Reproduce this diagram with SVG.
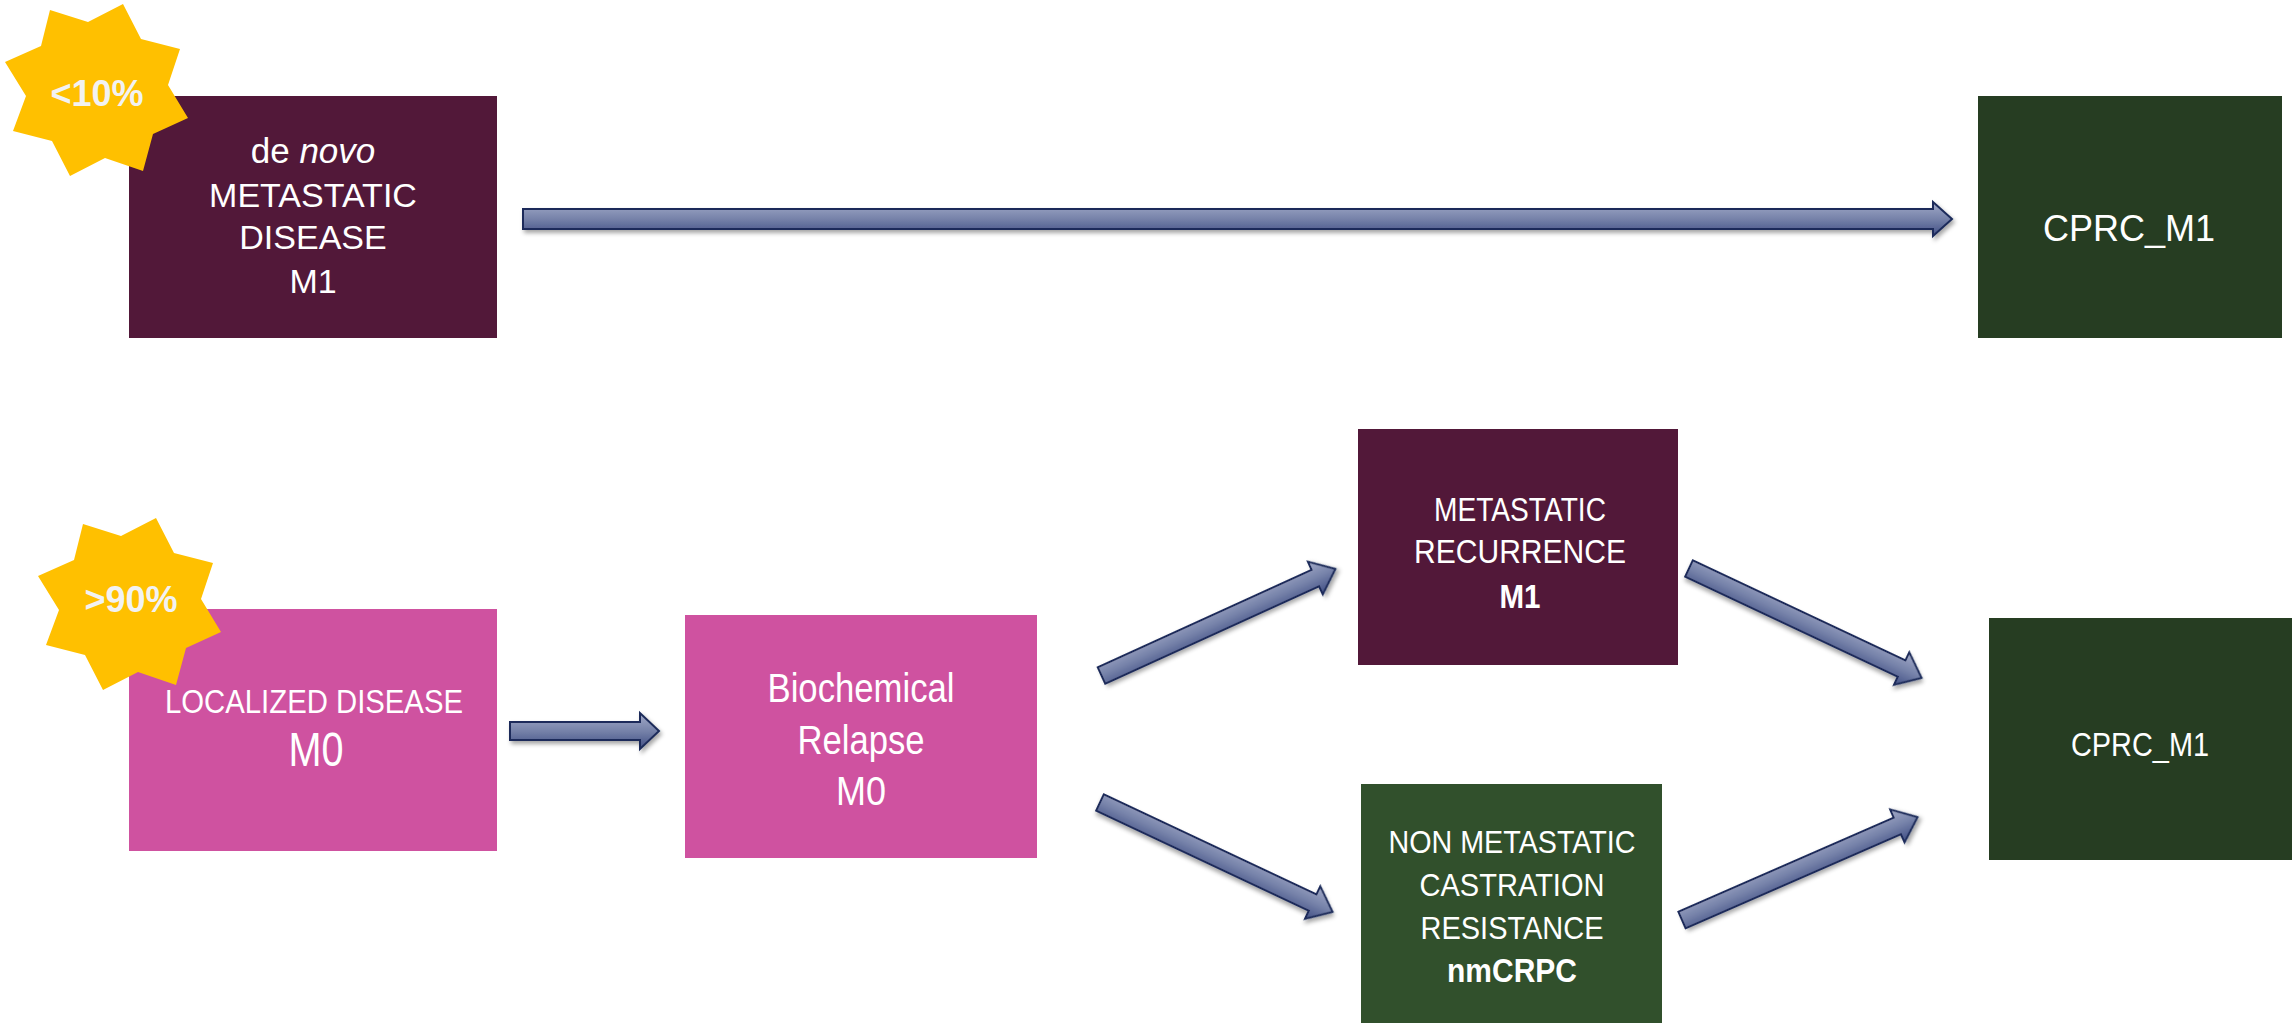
<svg xmlns="http://www.w3.org/2000/svg" width="2292" height="1023" viewBox="0 0 2292 1023">
  <defs>
    <linearGradient id="arrowFill" x1="0" y1="0" x2="0" y2="1">
      <stop offset="0" stop-color="#a2aac8"/>
      <stop offset="0.5" stop-color="#7682a9"/>
      <stop offset="1" stop-color="#404e84"/>
    </linearGradient>
    <filter id="shadow" x="-10%" y="-60%" width="120%" height="220%">
      <feDropShadow dx="2" dy="3" stdDeviation="2" flood-color="#000" flood-opacity="0.35"/>
    </filter>
    <polygon id="star" points="50,10 88,22 123,4 141,39 180,49 168,85 188,118 153,134 143,171 105,158 70,176 52,141 13,131 26,96 5,62 41,46"/>
  </defs>
  <style>
    text { font-family: "Liberation Sans", Arial, sans-serif; fill: #ffffff; text-anchor: middle; }
    .star { fill: #ffc000; }
    .badge { font-size: 36px; font-weight: bold; fill: #f2f2f2; }
    .arrow { fill: url(#arrowFill); stroke: #1c2c5a; stroke-width: 2; stroke-linejoin: miter; filter: url(#shadow); }
    .plum { fill: #521839; }
    .pink { fill: #cf52a0; }
    .forest { fill: #263d22; }
    .green { fill: #31502c; }
  </style>

  <rect width="2292" height="1023" fill="#ffffff"/>

  <!-- connectors -->
  <g id="connectors">
    <!-- de novo -> CPRC (top row) -->
    <path class="arrow" transform="translate(523,219)" d="M0,-10 L1410,-10 L1410,-17 L1429,0 L1410,17 L1410,10 L0,10 Z"/>
    <!-- localized -> biochemical relapse -->
    <path class="arrow" transform="translate(510,731)" d="M0,-9 L130,-9 L130,-18 L149,0 L130,18 L130,9 L0,9 Z"/>
    <!-- biochemical relapse -> metastatic recurrence -->
    <path class="arrow" transform="translate(1101.5,675.5) rotate(-24.5)" d="M0,-9 L235,-9 L235,-18 L257,0 L235,18 L235,9 L0,9 Z"/>
    <!-- biochemical relapse -> nmCRPC -->
    <path class="arrow" transform="translate(1100,802.5) rotate(25.2)" d="M0,-9 L235,-9 L235,-18 L257,0 L235,18 L235,9 L0,9 Z"/>
    <!-- metastatic recurrence -> CPRC -->
    <path class="arrow" transform="translate(1689,568.5) rotate(25.2)" d="M0,-9 L235,-9 L235,-18 L257,0 L235,18 L235,9 L0,9 Z"/>
    <!-- nmCRPC -> CPRC -->
    <path class="arrow" transform="translate(1682,920) rotate(-23.6)" d="M0,-9 L235,-9 L235,-18 L257,0 L235,18 L235,9 L0,9 Z"/>
  </g>

  <!-- de novo metastatic disease -->
  <g id="node-denovo">
    <rect class="plum" x="129" y="96" width="368" height="242"/>
    <text x="313" y="163" font-size="35">de <tspan font-style="italic">novo</tspan></text>
    <text x="313" y="207" font-size="34">METASTATIC</text>
    <text x="313" y="249" font-size="34">DISEASE</text>
    <text x="313" y="293" font-size="34">M1</text>
  </g>
  <g id="badge-10">
    <use href="#star" class="star"/>
    <text class="badge" x="97" y="106">&lt;10%</text>
  </g>

  <!-- CPRC top -->
  <g id="node-cprc-top">
    <rect class="forest" x="1978" y="96" width="304" height="242"/>
    <text x="2129" y="241" font-size="36">CPRC_M1</text>
  </g>

  <!-- localized disease -->
  <g id="node-localized">
    <rect class="pink" x="129" y="609" width="368" height="242"/>
    <text x="314" y="713" font-size="34" textLength="298" lengthAdjust="spacingAndGlyphs">LOCALIZED DISEASE</text>
    <text x="316" y="766" font-size="48" textLength="55" lengthAdjust="spacingAndGlyphs">M0</text>
  </g>
  <g id="badge-90">
    <use href="#star" class="star" transform="translate(33,514)"/>
    <text class="badge" x="131" y="612">&gt;90%</text>
  </g>

  <!-- biochemical relapse -->
  <g id="node-biochemical">
    <rect class="pink" x="685" y="615" width="352" height="243"/>
    <text x="861" y="702" font-size="40" textLength="187" lengthAdjust="spacingAndGlyphs">Biochemical</text>
    <text x="861" y="754" font-size="40" textLength="127" lengthAdjust="spacingAndGlyphs">Relapse</text>
    <text x="861" y="805" font-size="40" textLength="50" lengthAdjust="spacingAndGlyphs">M0</text>
  </g>

  <!-- metastatic recurrence -->
  <g id="node-recurrence">
    <rect class="plum" x="1358" y="429" width="320" height="236"/>
    <text x="1520" y="521" font-size="33" textLength="172" lengthAdjust="spacingAndGlyphs">METASTATIC</text>
    <text x="1520" y="563" font-size="33" textLength="212" lengthAdjust="spacingAndGlyphs">RECURRENCE</text>
    <text x="1520" y="608" font-size="33" font-weight="bold" textLength="41" lengthAdjust="spacingAndGlyphs">M1</text>
  </g>

  <!-- non metastatic castration resistance -->
  <g id="node-nmcrpc">
    <rect class="green" x="1361" y="784" width="301" height="239"/>
    <text x="1512" y="853" font-size="32" textLength="247" lengthAdjust="spacingAndGlyphs">NON METASTATIC</text>
    <text x="1512" y="896" font-size="32" textLength="185" lengthAdjust="spacingAndGlyphs">CASTRATION</text>
    <text x="1512" y="939" font-size="32" textLength="183" lengthAdjust="spacingAndGlyphs">RESISTANCE</text>
    <text x="1512" y="982" font-size="34" font-weight="bold" textLength="130" lengthAdjust="spacingAndGlyphs">nmCRPC</text>
  </g>

  <!-- CPRC bottom -->
  <g id="node-cprc-bottom">
    <rect class="forest" x="1989" y="618" width="303" height="242"/>
    <text x="2140" y="756" font-size="34" textLength="138" lengthAdjust="spacingAndGlyphs">CPRC_M1</text>
  </g>
</svg>
